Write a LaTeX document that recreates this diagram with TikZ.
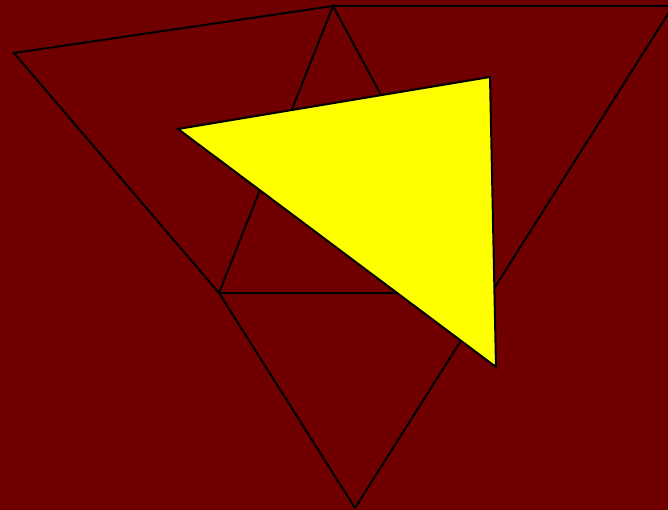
\documentclass[tikz,border=0pt]{standalone}
\definecolor{bgred}{RGB}{112,0,0}
\definecolor{ylw}{RGB}{255,255,0}
\tikzset{edge/.style={draw=black,line width=2pt,line join=miter}}
\begin{document}
\begin{tikzpicture}[x=1pt,y=-1pt]
\fill[bgred] (0,0) rectangle (668,510);
\useasboundingbox (0,0) rectangle (668,510);
\begin{scope}
\clip (0,0) rectangle (668,510);
\coordinate (L) at (14,53);
\coordinate (T) at (333,6);
\coordinate (R) at (673,6);
\coordinate (B) at (355,508);
\coordinate (M) at (219,293);
\coordinate (N) at (488,293);
\draw[edge] (L) -- (T) -- (R) -- (B) -- (M) -- cycle;
\draw[edge] (T) -- (M) -- (N) -- cycle;
\coordinate (Y1) at (178,129);
\coordinate (Y2) at (490,77);
\coordinate (Y3) at (496,367);
\filldraw[edge,fill=ylw] (Y1) -- (Y2) -- (Y3) -- cycle;
\end{scope}
\end{tikzpicture}
\end{document}
